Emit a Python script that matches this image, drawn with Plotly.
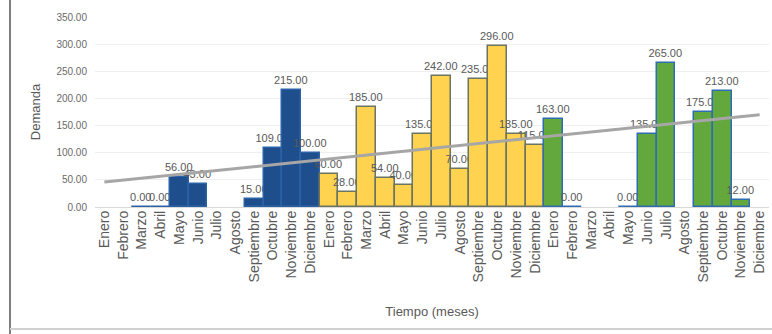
import plotly.graph_objects as go

months = ["Enero", "Febrero", "Marzo", "Abril", "Mayo", "Junio", "Julio",
          "Agosto", "Septiembre", "Octubre", "Noviembre", "Diciembre"]
tick_labels = months * 3

year1 = [None, None, 0, 0, 56, 43, None, None, 15, 109, 215, 100]
year2 = [60, 28, 185, 54, 40, 135, 242, 70, 235, 296, 135, 115]
year3 = [163, 0, None, None, 0, 135, 265, None, 175, 213, 12, None]

trend_ends = [46, 170]  # trend line value at first and last month

x_all = list(range(36))
x1, x2, x3 = x_all[0:12], x_all[12:24], x_all[24:36]

lbl_font = dict(family="Liberation Sans, Arial", size=11, color="#595959")

fig = go.Figure()

def add_bars(x, y, fill, line):
    fig.add_trace(go.Bar(
        x=x, y=y, marker=dict(color=fill, line=dict(color=line, width=1.5)),
        texttemplate="%{y:.2f}", textposition="outside", textfont=lbl_font,
        constraintext="none", cliponaxis=False, showlegend=False,
        hoverinfo="x+y"))

add_bars(x1, year1, "#1f4e8c", "#2a62a8")
add_bars(x2, year2, "#ffd34f", "#6b7560")
add_bars(x3, year3, "#63a83c", "#2e6db4")

fig.add_trace(go.Scatter(
    x=[x_all[0], x_all[-1]], y=trend_ends, mode="lines",
    line=dict(color="#a6a6a6", width=3), showlegend=False, hoverinfo="skip"))

L, R, T, B = 95, 3, 17, 127
PW, PH = 772 - L - R, 334 - T - B

fig.update_layout(
    width=772, height=334,
    margin=dict(l=L, r=R, t=T, b=B),
    paper_bgcolor="white", plot_bgcolor="white",
    barmode="overlay", bargap=0,
    font=dict(family="Liberation Sans, Arial", color="#595959"),
    xaxis=dict(
        tickmode="array", tickvals=x_all, ticktext=tick_labels,
        tickangle=-90, tickfont=dict(size=14, color="#595959"),
        range=[-0.5, 35.5], showgrid=False, zeroline=False, ticks="",
        automargin=False,
        title=dict(text="Tiempo (meses)", font=dict(size=13, color="#595959"),
                   standoff=25),
    ),
    yaxis=dict(
        range=[0, 350], tickvals=[0, 50, 100, 150, 200, 250, 300, 350],
        tickformat=".2f", tickfont=dict(size=10, color="#6a6a6a"),
        ticklabelstandoff=7,
        showgrid=True, gridcolor="#efefef", zeroline=True,
        zerolinecolor="#d9d9d9", zerolinewidth=1, automargin=False,
        title=dict(text="Demanda", font=dict(size=13, color="#595959"),
                   standoff=12),
    ),
    shapes=[
        dict(type="line", xref="paper", yref="paper",
             x0=(10 - L) / PW, x1=(10 - L) / PW, y0=-B / PH, y1=1.2,
             line=dict(color="#7f7f7f", width=2)),
        dict(type="line", xref="paper", yref="paper",
             x0=(10 - L) / PW, x1=1.01, y0=(207 - 329) / PH, y1=(207 - 329) / PH,
             line=dict(color="#d0d0d0", width=2)),
    ],
)

fig.write_html("out.html", config={"displayModeBar": False},
               post_script="document.body.style.margin='0';")
